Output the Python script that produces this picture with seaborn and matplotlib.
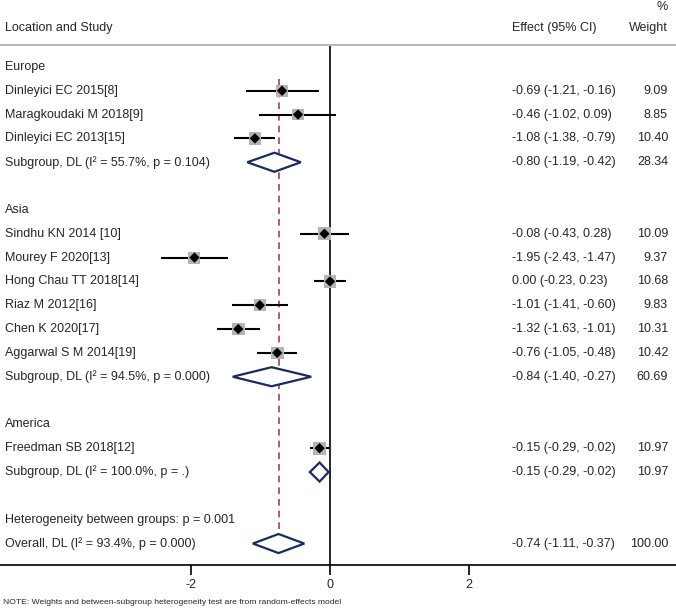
import numpy as np
import pandas as pd
import seaborn as sns
import matplotlib.pyplot as plt
from matplotlib.patches import Polygon

# study rows (label, effect, lower, upper, weight) per region
europe_labels = ["Dinleyici EC 2015[8]", "Maragkoudaki M 2018[9]", "Dinleyici EC 2013[15]"]
europe_eff = [-0.69, -0.46, -1.08]
europe_lo = [-1.21, -1.02, -1.38]
europe_hi = [-0.16, 0.09, -0.79]
europe_w = [9.09, 8.85, 10.40]

asia_labels = ["Sindhu KN 2014 [10]", "Mourey F 2020[13]", "Hong Chau TT 2018[14]",
               "Riaz M 2012[16]", "Chen K 2020[17]", "Aggarwal S M 2014[19]"]
asia_eff = [-0.08, -1.95, 0.00, -1.01, -1.32, -0.76]
asia_lo = [-0.43, -2.43, -0.23, -1.41, -1.63, -1.05]
asia_hi = [0.28, -1.47, 0.23, -0.60, -1.01, -0.48]
asia_w = [10.09, 9.37, 10.68, 9.83, 10.31, 10.42]

america_labels = ["Freedman SB 2018[12]"]
america_eff = [-0.15]
america_lo = [-0.29]
america_hi = [-0.02]
america_w = [10.97]

# subgroup pooled results
sub_labels = ["Subgroup, DL (I² = 55.7%, p = 0.104)",
              "Subgroup, DL (I² = 94.5%, p = 0.000)",
              "Subgroup, DL (I² = 100.0%, p = .)"]
sub_eff = [-0.80, -0.84, -0.15]
sub_lo = [-1.19, -1.40, -0.29]
sub_hi = [-0.42, -0.27, -0.02]
sub_w = [28.34, 60.69, 10.97]

overall_label = "Overall, DL (I² = 93.4%, p = 0.000)"
overall_eff, overall_lo, overall_hi, overall_w = -0.74, -1.11, -0.37, 100.00
het_label = "Heterogeneity between groups: p = 0.001"
region_names = ["Europe", "Asia", "America"]

# build the row table
rows = []
groups = [
    (europe_labels, europe_eff, europe_lo, europe_hi, europe_w),
    (asia_labels, asia_eff, asia_lo, asia_hi, asia_w),
    (america_labels, america_eff, america_lo, america_hi, america_w),
]
for g, (labs, eff, lo, hi, w) in enumerate(groups):
    rows.append(dict(label=region_names[g], kind="header"))
    for i in range(len(labs)):
        rows.append(dict(label=labs[i], eff=eff[i], lo=lo[i], hi=hi[i], w=w[i], kind="study"))
    rows.append(dict(label=sub_labels[g], eff=sub_eff[g], lo=sub_lo[g], hi=sub_hi[g], w=sub_w[g], kind="sub"))
    rows.append(dict(label="", kind="blank"))
rows.append(dict(label=het_label, kind="header"))
rows.append(dict(label=overall_label, eff=overall_eff, lo=overall_lo, hi=overall_hi, w=overall_w, kind="sub"))
df = pd.DataFrame(rows)
df["row"] = np.arange(len(df))

sns.set_style("white")
plt.rcParams["font.family"] = ["Liberation Sans", "DejaVu Sans"]
fs = 9

fig = plt.figure(figsize=(6.76, 6.10), dpi=100)
ax = fig.add_axes([0, (610 - 565) / 610, 1, (565 - 45) / 610])

px_per_unit = 69.5
ax.set_xlim(-330 / px_per_unit, (676 - 330) / px_per_unit)
ax.set_ylim(20.9, -0.92)

studies = df[df.kind == "study"]
# confidence interval lines
ax.hlines(studies.row, studies.lo, studies.hi, color="black", lw=1.5, zorder=2)
# weight squares
sns.scatterplot(data=studies, x="eff", y="row", size="w", sizes=(70, 90), marker="s",
                color="#b4b4b4", edgecolor="none", legend=False, ax=ax, zorder=3)
sns.scatterplot(data=studies, x="eff", y="row", marker="D", s=28, color="black",
                edgecolor="none", legend=False, ax=ax, zorder=4)

# pooled diamonds
for _, r in df[df.kind == "sub"].iterrows():
    h = 0.4
    poly = Polygon([[r.lo, r.row], [r.eff, r.row - h], [r.hi, r.row], [r.eff, r.row + h]],
                   closed=True, facecolor="white", edgecolor="#1c2a5e", lw=1.6, zorder=5)
    ax.add_patch(poly)

# reference lines
ax.axvline(0, color="black", lw=1.2, zorder=1)
ax.plot([overall_eff, overall_eff], [0.5, 20.4], color="#a4434b", lw=1.2,
        linestyle=(0, (4, 3)), zorder=1)

# text columns
tr = ax.get_yaxis_transform()
for _, r in df.iterrows():
    if r.label:
        ax.text(5 / 676, r.row, r.label, transform=tr, ha="left", va="center", fontsize=fs)
    if r.kind in ("study", "sub"):
        ax.text(512 / 676, r.row, f"{r.eff:.2f} ({r.lo:.2f}, {r.hi:.2f})", transform=tr,
                ha="left", va="center", fontsize=fs)
        ax.text(668 / 676, r.row, f"{r.w:.2f}", transform=tr, ha="right", va="center", fontsize=fs)

# axes styling
ax.set_xticks([-2, 0, 2])
ax.set_xticklabels(["-2", "0", "2"], fontsize=fs)
ax.set_yticks([])
ax.set_xlabel("")
ax.set_ylabel("")
ax.tick_params(axis="x", direction="out", length=7, width=1.2, color="black", pad=3, bottom=True)
for side in ["left", "right"]:
    ax.spines[side].set_visible(False)
ax.spines["top"].set_color("#b8b8b8")
ax.spines["top"].set_linewidth(1.5)
ax.spines["bottom"].set_color("black")
ax.spines["bottom"].set_linewidth(1.2)

# headers and footnote
fig.text(5 / 676, 1 - 28 / 610, "Location and Study", ha="left", va="center", fontsize=fs)
fig.text(512 / 676, 1 - 28 / 610, "Effect (95% CI)", ha="left", va="center", fontsize=fs)
fig.text(668 / 676, 1 - 28 / 610, "Weight", ha="right", va="center", fontsize=fs)
fig.text(668 / 676, 1 - 7 / 610, "%", ha="right", va="center", fontsize=fs)
fig.text(3 / 676, 1 - 603 / 610,
         "NOTE: Weights and between-subgroup heterogeneity test are from random-effects model",
         ha="left", va="center", fontsize=6.1)

fig.savefig("out.png", dpi=100)
